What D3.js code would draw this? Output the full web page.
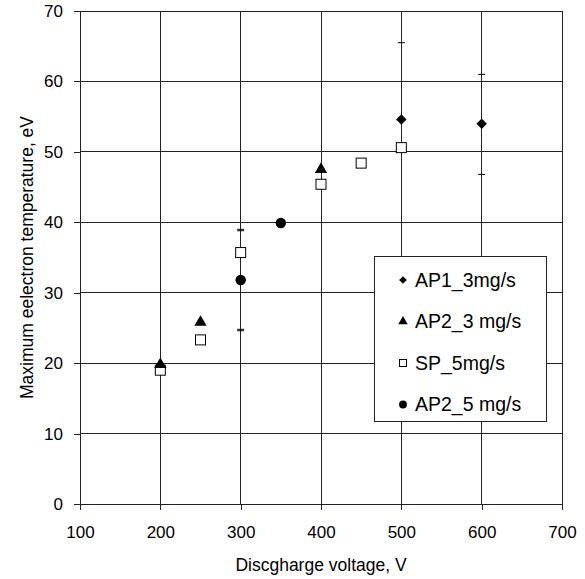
<!DOCTYPE html>
<html>
<head>
<meta charset="utf-8">
<script src="https://cdn.jsdelivr.net/npm/d3@7"></script>
<style>
  body { margin: 0; background: #fff; }
  svg text { font-family: Arial, "Liberation Sans", sans-serif; fill: #000; }
</style>
</head>
<body>
<div class="chart"></div>
<script>
// series data (voltage V, max electron temperature eV)
const ap1Volt = [300, 500, 600];
const ap1Temp = [31.8, 54.6, 54.0];
const ap1ErrLo = [24.8, null, 46.8];
const ap1ErrHi = [38.8, 65.5, 61.0];

const ap2_3Volt = [200, 250, 400];
const ap2_3Temp = [19.8, 25.8, 47.5];

const spVolt = [200, 250, 300, 400, 450, 500];
const spTemp = [19.0, 23.3, 35.7, 45.4, 48.4, 50.6];

const ap2_5Volt = [300, 350];
const ap2_5Temp = [31.8, 39.9];
const ap2_5ErrLo = [24.6, null];
const ap2_5ErrHi = [39.0, null];

const xTicks = [100, 200, 300, 400, 500, 600, 700];
const yTicks = [0, 10, 20, 30, 40, 50, 60, 70];
const seriesNames = ["AP1_3mg/s", "AP2_3 mg/s", "SP_5mg/s", "AP2_5 mg/s"];

const width = 585, height = 579,
    margin = ({ top: 11, right: 23, bottom: 75, left: 80 });

const x = d3.scaleLinear().domain([100, 700]).range([margin.left, width - margin.right]);
const y = d3.scaleLinear().domain([0, 70]).range([height - margin.bottom, margin.top]);

const svg = d3.select(".chart").append("svg")
    .attr("width", width)
    .attr("height", height);

// gridlines
svg.append("g")
    .attr("stroke", "#222")
    .attr("shape-rendering", "crispEdges")
    .call(g => g.selectAll(".v").data(xTicks).join("line")
        .attr("x1", d => x(d)).attr("x2", d => x(d))
        .attr("y1", y(70)).attr("y2", y(0)))
    .call(g => g.selectAll(".h").data(yTicks).join("line")
        .attr("y1", d => y(d)).attr("y2", d => y(d))
        .attr("x1", x(100)).attr("x2", x(700)));

// axes
svg.append("g")
    .attr("transform", `translate(0,${y(0)})`)
    .call(d3.axisBottom(x).tickValues(xTicks).tickSize(6).tickPadding(16).tickFormat(d3.format("d")))
    .call(g => g.select(".domain").attr("stroke", "#222"))
    .call(g => g.selectAll(".tick line").attr("stroke", "#222"))
    .call(g => g.selectAll("text").style("font-size", "17px").attr("fill", "#000"));

svg.append("g")
    .attr("transform", `translate(${x(100)},0)`)
    .call(d3.axisLeft(y).tickValues(yTicks).tickSize(6).tickPadding(11).tickFormat(d3.format("d")))
    .call(g => g.select(".domain").attr("stroke", "#222"))
    .call(g => g.selectAll(".tick line").attr("stroke", "#222"))
    .call(g => g.selectAll("text").style("font-size", "17px").attr("fill", "#000"));

svg.selectAll(".domain, .tick line").attr("shape-rendering", "crispEdges");

// axis titles
svg.append("text")
    .attr("x", (x(100) + x(700)) / 2)
    .attr("y", 571)
    .attr("text-anchor", "middle")
    .style("font-size", "17.5px")
    .text("Discgharge voltage, V");

svg.append("text")
    .attr("transform", `translate(27,${(y(0) + y(70)) / 2}) rotate(-90)`)
    .attr("text-anchor", "middle")
    .attr("dy", "0.35em")
    .style("font-size", "17.5px")
    .text("Maximum eelectron temperature, eV");

// error bars
function errorBars(volt, lo, hi) {
    const g = svg.append("g").attr("stroke", "#000").attr("stroke-width", 1);
    volt.forEach((v, i) => {
        const cx = x(v);
        if (lo[i] != null) g.append("line").attr("x1", cx - 3.5).attr("x2", cx + 3.5).attr("y1", y(lo[i])).attr("y2", y(lo[i]));
        if (hi[i] != null) g.append("line").attr("x1", cx - 3.5).attr("x2", cx + 3.5).attr("y1", y(hi[i])).attr("y2", y(hi[i]));
    });
}
errorBars(ap1Volt, ap1ErrLo, ap1ErrHi);
errorBars(ap2_5Volt, ap2_5ErrLo, ap2_5ErrHi);

const diamond = d3.symbol().type(d3.symbolDiamond2).size(70);
const triangle = d3.symbol().type(d3.symbolTriangle).size(66);
const circle = d3.symbol().type(d3.symbolCircle).size(85);

// SP squares
svg.append("g")
    .selectAll("rect")
    .data(d3.zip(spVolt, spTemp))
    .join("rect")
    .attr("x", d => x(d[0]) - 5)
    .attr("y", d => y(d[1]) - 5)
    .attr("width", 10)
    .attr("height", 10)
    .attr("fill", "#fff")
    .attr("stroke", "#000")
    .attr("stroke-width", 1);

svg.append("g")
    .selectAll("path")
    .data(d3.zip(ap2_3Volt, ap2_3Temp))
    .join("path")
    .attr("transform", d => `translate(${x(d[0])},${y(d[1])})`)
    .attr("d", triangle)
    .attr("fill", "#000");

svg.append("g")
    .selectAll("path")
    .data(d3.zip(ap2_5Volt, ap2_5Temp))
    .join("path")
    .attr("transform", d => `translate(${x(d[0])},${y(d[1])})`)
    .attr("d", circle)
    .attr("fill", "#000");

svg.append("g")
    .selectAll("path")
    .data(d3.zip(ap1Volt, ap1Temp))
    .join("path")
    .attr("transform", d => `translate(${x(d[0])},${y(d[1])})`)
    .attr("d", diamond)
    .attr("fill", "#000");

// legend
const legend = svg.append("g").attr("transform", "translate(374,256)");
legend.append("rect")
    .attr("x", 0.5).attr("y", 0.5)
    .attr("width", 172).attr("height", 165)
    .attr("fill", "#fff")
    .attr("stroke", "#222");

const legMarks = [
    d3.symbol().type(d3.symbolDiamond2).size(38)(),
    d3.symbol().type(d3.symbolTriangle).size(38)(),
    null,
    d3.symbol().type(d3.symbolCircle).size(48)()
];

seriesNames.forEach((name, i) => {
    const ly = 24 + i * 41.5;
    if (legMarks[i]) {
        legend.append("path")
            .attr("transform", `translate(29,${ly})`)
            .attr("d", legMarks[i])
            .attr("fill", "#000");
    } else {
        legend.append("rect")
            .attr("x", 25.5).attr("y", ly - 3.5)
            .attr("width", 7).attr("height", 7)
            .attr("fill", "#fff").attr("stroke", "#000");
    }
    legend.append("text")
        .attr("x", 41)
        .attr("y", ly)
        .attr("dy", "0.35em")
        .style("font-size", "19.5px")
        .text(name);
});
</script>
</body>
</html>
